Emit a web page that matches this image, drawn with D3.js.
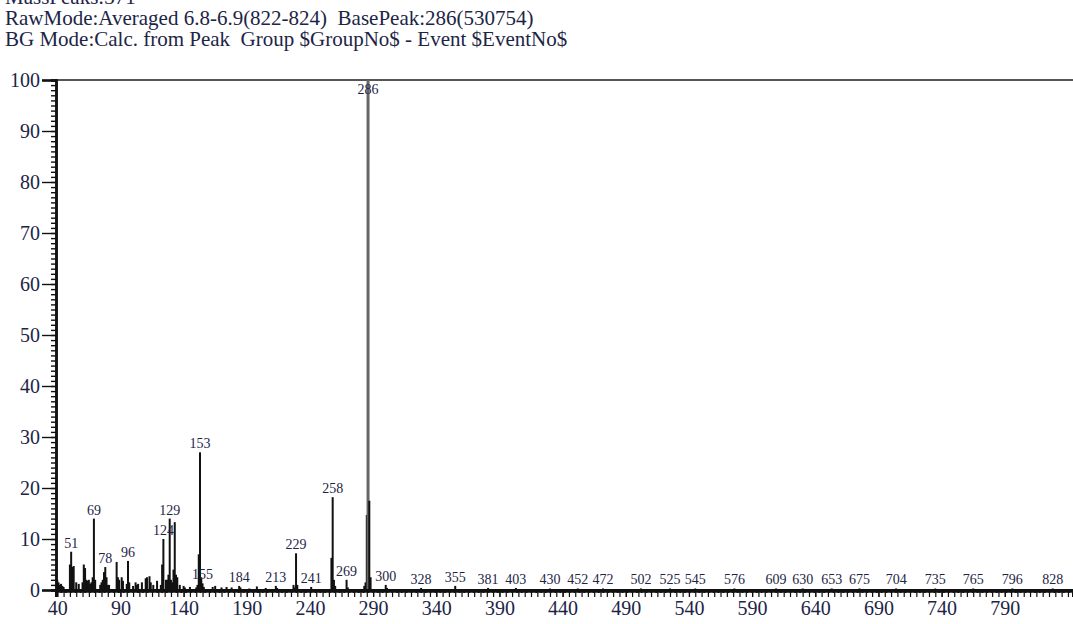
<!DOCTYPE html>
<html>
<head>
<meta charset="utf-8">
<script src="https://cdn.jsdelivr.net/npm/d3@7"></script>
<style>
  body { margin: 0; background: #fff; }
  svg { display: block; }
  text { font-family: "Liberation Serif", "Times New Roman", serif; fill: #1d2546; white-space: pre; }
</style>
</head>
<body>
<svg id="chart" width="1073" height="624"></svg>
<script>
// header lines of the instrument report
var headerLines = [
  "MassPeaks:371",
  "RawMode:Averaged 6.8-6.9(822-824)  BasePeak:286(530754)",
  "BG Mode:Calc. from Peak  Group $GroupNo$ - Event $EventNo$"
];

// m/z of each peak and its relative intensity (%)
var peakMz = [40, 41, 42, 43, 44, 45, 50, 51, 52, 53, 55, 57, 60, 61, 62, 63, 64, 65, 66, 67, 68, 69, 70,
  74, 75, 76, 77, 78, 79, 80, 81, 87, 88, 89, 91, 92, 95, 96, 97, 100, 102, 103, 104, 107, 110, 111, 113,
  114, 116, 119, 122, 123, 124, 126, 127, 128, 129, 130, 131, 132, 133, 134, 135, 137, 140, 141, 145, 150,
  151, 152, 153, 154, 155, 156, 163, 165, 170, 174, 178, 184, 185, 192, 198, 205, 213, 214, 227, 228, 229,
  230, 241, 257, 258, 259, 260, 269, 270, 283, 284, 285, 286, 287, 288, 300, 301, 328, 355, 381, 403, 430,
  452, 472, 502, 525, 545, 576, 609, 630, 653, 675, 704, 735, 765, 796, 828];
var peakInt = [2, 1.5, 1, 1.2, 0.8, 0.6, 5, 7.5, 4.5, 4.7, 1.5, 1.2, 1.5, 5, 4.3, 2, 1.8, 2, 1.2, 1.5, 2.5, 14, 2,
  1, 1.5, 2, 3.5, 4.5, 2.5, 1, 1, 5.5, 2.5, 2, 2.5, 1.8, 1.2, 5.7, 1.5, 0.8, 1.5, 1, 1.2, 1.5, 2.3, 2.5, 2.7,
  1.5, 1, 1.8, 1, 5, 10, 2, 2, 3, 14, 2, 1.5, 4, 13.3, 3, 2.5, 1, 0.8, 0.5, 0.6, 0.5,
  1, 7, 27, 2.5, 1.3, 0.6, 0.6, 0.8, 0.5, 0.6, 0.5, 0.8, 0.5, 0.3, 0.7, 0.4, 0.8, 0.4, 1, 0.5, 7.2,
  1, 0.6, 6.3, 18.2, 2, 0.8, 2, 0.5, 0.8, 1.5, 14.7, 100, 17.5, 2.5, 1, 0.4, 0.4, 0.8, 0.4, 0.4, 0.3,
  0.3, 0.3, 0.3, 0.3, 0.3, 0.3, 0.3, 0.3, 0.3, 0.3, 0.3, 0.3, 0.3, 0.3, 0.3];

// peaks that carry an m/z label
var labelledMz = [51, 69, 78, 96, 124, 129, 153, 155, 184, 213, 229, 241, 258, 269, 286, 300, 328, 355,
  381, 403, 430, 452, 472, 502, 525, 545, 576, 609, 630, 653, 675, 704, 735, 765, 796, 828];

var xTicks = d3.range(40, 791, 50);
var yTicks = d3.range(0, 101, 10);

var svg = d3.select("#chart");
var plotLeft = 56, plotRight = 1073, plotTop = 80, plotBottom = 590;

var x = d3.scaleLinear().domain([39, 844]).range([plotLeft, plotRight]);
var y = d3.scaleLinear().domain([0, 100]).range([plotBottom, plotTop]);

// header (first line is cut by the page edge, as in the scan)
svg.selectAll(".hdr")
  .data(headerLines)
  .enter()
  .append("text")
  .attr("class", "hdr")
  .attr("x", 5)
  .attr("y", function(d, i){ return 4 + i * 21; })
  .attr("font-size", 21)
  .text(function(d){ return d; });

// top frame line
svg.append("line")
  .attr("x1", plotLeft).attr("x2", plotRight)
  .attr("y1", plotTop).attr("y2", plotTop)
  .attr("stroke", "#555").attr("stroke-width", 2);

// peaks
var peaks = peakMz.map(function(m, i){ return {mz: m, v: peakInt[i]}; });
svg.selectAll(".peak")
  .data(peaks)
  .enter()
  .append("line")
  .attr("class", "peak")
  .attr("x1", function(d){ return x(d.mz); })
  .attr("x2", function(d){ return x(d.mz); })
  .attr("y1", y(0))
  .attr("y2", function(d){ return y(d.v); })
  .attr("stroke", function(d){ return d.v >= 100 ? "#666" : "#111"; })
  .attr("stroke-width", function(d){ return d.v >= 100 ? 3 : 2; });

// peak labels
svg.selectAll(".plabel")
  .data(peaks.filter(function(d){ return labelledMz.indexOf(d.mz) >= 0; }))
  .enter()
  .append("text")
  .attr("class", "plabel")
  .attr("x", function(d){ return x(d.mz); })
  .attr("y", function(d){ return Math.max(y(d.v) - 4, plotTop + 14); })
  .attr("text-anchor", "middle")
  .attr("font-size", 14)
  .text(function(d){ return d.mz; });

// y axis
var yAxis = svg.append("g").attr("transform", "translate(" + plotLeft + ",0)");
yAxis.append("g").call(d3.axisLeft(y).tickValues(d3.range(0, 101, 1)).tickSize(5).tickFormat(""));
yAxis.append("g").call(d3.axisLeft(y).tickValues(yTicks).tickSize(14).tickPadding(2).tickFormat(d3.format("d")));
yAxis.selectAll("path").attr("stroke", "#111").attr("stroke-width", 2.5);
yAxis.selectAll("line").attr("stroke", "#111").attr("stroke-width", 1.4);
yAxis.selectAll("text").attr("font-size", 20).attr("font-family", "Liberation Serif").attr("fill", "#1d2546");

// x axis
var xAxis = svg.append("g").attr("transform", "translate(0," + plotBottom + ")");
xAxis.append("g").call(d3.axisBottom(x).tickValues(d3.range(40, 845, 1)).tickSize(3).tickFormat(""));
xAxis.append("g").call(d3.axisBottom(x).tickValues(d3.range(40, 845, 5)).tickSize(7).tickFormat(""));
xAxis.append("g").call(d3.axisBottom(x).tickValues(xTicks).tickSize(7).tickPadding(4).tickFormat(d3.format("d")));
xAxis.selectAll("path").attr("stroke", "#111").attr("stroke-width", 3);
xAxis.selectAll("line").attr("stroke", "#111").attr("stroke-width", 1.2);
xAxis.selectAll("text").attr("font-size", 20).attr("font-family", "Liberation Serif").attr("fill", "#1d2546");
</script>
</body>
</html>
